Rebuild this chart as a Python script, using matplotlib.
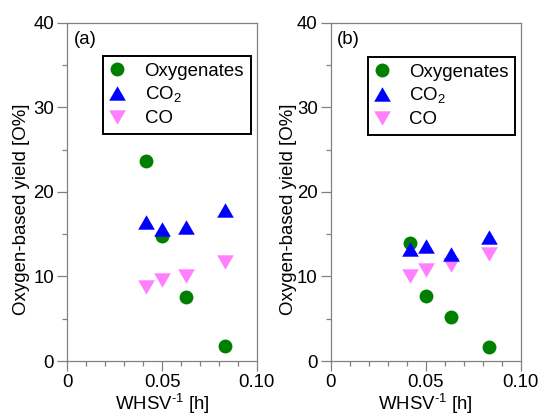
import matplotlib
matplotlib.use("Agg")
import matplotlib.pyplot as plt
from matplotlib.ticker import FixedLocator, MultipleLocator

plt.rcParams['font.family'] = ['Liberation Sans', 'DejaVu Sans']
plt.rcParams['mathtext.fontset'] = 'custom'
plt.rcParams['mathtext.rm'] = 'Liberation Sans'

# Data
whsv_a = [0.0417, 0.0500, 0.0625, 0.0833]
oxy_a = [23.7, 14.8, 7.6, 1.8]
co2_a = [16.4, 15.6, 15.9, 17.8]
co_a = [8.7, 9.6, 10.0, 11.7]

whsv_b = [0.0417, 0.0500, 0.0632, 0.0833]
oxy_b = [14.0, 7.7, 5.2, 1.7]
co2_b = [13.2, 13.6, 12.7, 14.7]
co_b = [10.1, 10.8, 11.3, 12.7]

xticks = [0, 0.05, 0.10]
xticklabels = ['0', '0.05', '0.10']
yticks = [0, 10, 20, 30, 40]
yticklabels = ['0', '10', '20', '30', '40']
panel_labels = ['(a)', '(b)']
series_labels = ['Oxygenates', 'CO$_{\\mathregular{2}}$', 'CO']

green = '#008000'
blue = '#0000ff'
pink = '#ff80ff'
spine_gray = '#808080'
FS = 13.4

up_tri = [(-1, -0.866), (1, -0.866), (0, 0.866), (-1, -0.866)]
down_tri = [(-1, 0.866), (1, 0.866), (0, -0.866), (-1, 0.866)]

fig = plt.figure(figsize=(5.41, 4.15), dpi=100)
axes_rects = [[0.1244, 0.1301, 0.3501, 0.8152], [0.6118, 0.1301, 0.3506, 0.8152]]
datasets = [(whsv_a, oxy_a, co2_a, co_a), (whsv_b, oxy_b, co2_b, co_b)]
legend_anchor = [(0.187, 0.9015), (0.193, 0.898)]
label_x = [0.035, 0.03]
ylabel_x = [-0.199, -0.18]

for i, (rect, (x, oxy, co2, co)) in enumerate(zip(axes_rects, datasets)):
    ax = fig.add_axes(rect)
    ax.plot(x, co, linestyle='none', marker=down_tri, markersize=12, color=pink,
            markeredgewidth=0, label=series_labels[2], zorder=3)
    ax.plot(x, oxy, linestyle='none', marker='o', markersize=10, color=green,
            markeredgewidth=0, label=series_labels[0], zorder=4)
    ax.plot(x, co2, linestyle='none', marker=up_tri, markersize=12, color=blue,
            markeredgewidth=0, label=series_labels[1], zorder=5)
    ax.set_xlim(0, 0.10)
    ax.set_ylim(0, 40)
    ax.xaxis.set_major_locator(FixedLocator(xticks))
    ax.set_xticklabels(xticklabels)
    ax.yaxis.set_major_locator(FixedLocator(yticks))
    ax.set_yticklabels(yticklabels)
    ax.xaxis.set_minor_locator(MultipleLocator(0.01))
    ax.yaxis.set_minor_locator(MultipleLocator(5))
    ax.tick_params(which='major', direction='out', length=7, width=0.9,
                   color=spine_gray, labelsize=FS, pad=2.5)
    ax.tick_params(which='minor', direction='out', length=3.5, width=0.9,
                   color=spine_gray)
    for s in ax.spines.values():
        s.set_color(spine_gray)
        s.set_linewidth(0.9)
    ax.set_xlabel('WHSV$^{\\mathregular{\u2010}\\mathregular{1}}$ [h]', fontsize=FS, labelpad=0)
    ax.set_ylabel('Oxygen-based yield [O%]', fontsize=FS)
    ax.yaxis.set_label_coords(ylabel_x[i], 0.45)
    ax.text(label_x[i], 0.949, panel_labels[i], transform=ax.transAxes,
            ha='left', va='center', fontsize=FS)
    h, l = ax.get_legend_handles_labels()
    order = [1, 2, 0]
    leg = ax.legend([h[k] for k in order], [l[k] for k in order],
                    loc='upper left', bbox_to_anchor=legend_anchor[i],
                    fontsize=FS, frameon=True, fancybox=False, framealpha=1,
                    edgecolor='black', borderpad=0.35, labelspacing=0.28,
                    handletextpad=1.1, handlelength=0.8, borderaxespad=0)
    leg.get_frame().set_linewidth(1.4)

fig.savefig('out.png', dpi=100)
